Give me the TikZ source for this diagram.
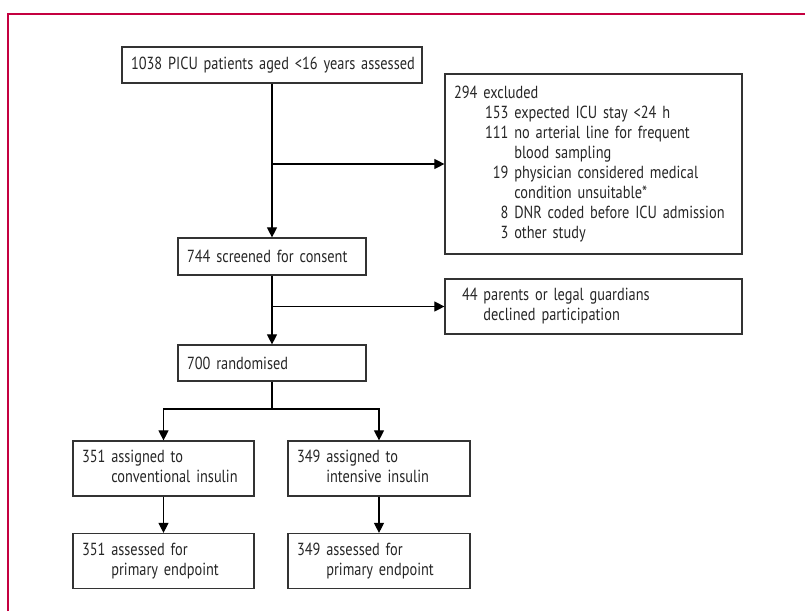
\documentclass[tikz,border=0pt]{standalone}
\usepackage{fontspec}
\setmainfont{PT Sans}[FakeStretch=0.82]
\usetikzlibrary{arrows.meta}
\definecolor{framered}{RGB}{196,0,64}
\begin{document}
\begin{tikzpicture}[x=1pt,y=-1pt,
    box/.style ={draw=black!80, line width=1.2pt, inner xsep=9pt, inner ysep=0pt, align=left,
                 font=\fontsize{17.5}{20}\selectfont, text=black!85},
    arr/.style ={line width=1.1pt, -{Triangle[length=10pt,width=10pt]}},
    plain/.style ={line width=1.1pt}]
   \useasboundingbox (0,0) rectangle (805,611);
   \draw[framered, line width=1.4pt] (8,611) -- (8,14) -- (805,14);
   % flow boxes
   \node[box, text width=282pt, minimum height=36pt] (assessed) at (272,65) {\begin{tabular}{@{}l@{}}1038 PICU patients aged <16 years assessed\end{tabular}};
   \node[box, text width=279pt, minimum height=180pt] (excluded) at (593.5,164) {\begin{tabular}{@{}p{31pt}@{}r@{ }l@{}}
      \multicolumn{3}{@{}l@{}}{294 excluded}\\
      & 153 & expected ICU stay <24 h\\
      & 111 & no arterial line for frequent\\
      &     & blood sampling\\
      & 19  & physician considered medical\\
      &     & condition unsuitable*\\
      & 8   & DNR coded before ICU admission\\
      & 3   & other study
    \end{tabular}};
   \node[box, text width=170pt, minimum height=37pt] (screened) at (272,256.5) {744 screened for consent};
   \node[box, text width=279pt, minimum height=55pt] (declined) at (593.5,306.5) {\begin{tabular}{@{\hspace{8pt}}l@{ }l@{}}
      44 & parents or legal guardians\\
         & declined participation
    \end{tabular}};
   \node[box, text width=170pt, minimum height=36pt] (randomised) at (272,363) {700 randomised};
   \node[box, text width=163pt, minimum height=55pt] (conv) at (163.5,468.5) {\begin{tabular}{@{}l@{ }l@{}}
      351 & assigned to\\ & conventional insulin\end{tabular}};
   \node[box, text width=164pt, minimum height=55pt] (intens) at (379,468.5) {\begin{tabular}{@{}l@{ }l@{}}
      349 & assigned to\\ & intensive insulin\end{tabular}};
   \node[box, text width=163pt, minimum height=55pt] (convend) at (163.5,561) {\begin{tabular}{@{}l@{ }l@{}}
      351 & assessed for\\ & primary endpoint\end{tabular}};
   \node[box, text width=164pt, minimum height=55pt] (intensend) at (379,561) {\begin{tabular}{@{}l@{ }l@{}}
      349 & assessed for\\ & primary endpoint\end{tabular}};
   \coordinate (split) at (272,409);
   % connectors
   \draw[arr] (assessed.south) -- (screened.north);
   \draw[arr] (assessed.south |- excluded.west) -- (excluded.west);
   \draw[arr] (screened.south) -- (randomised.north);
   \draw[arr] (screened.south |- declined.west) -- (declined.west);
   \draw[plain] (randomised.south) -- (split);
   \draw[arr] (split) -| (conv.north);
   \draw[arr] (split) -| (intens.north);
   \draw[arr] (conv.south) -- (convend.north);
   \draw[arr] (intens.south) -- (intensend.north);
 \end{tikzpicture}
\end{document}
